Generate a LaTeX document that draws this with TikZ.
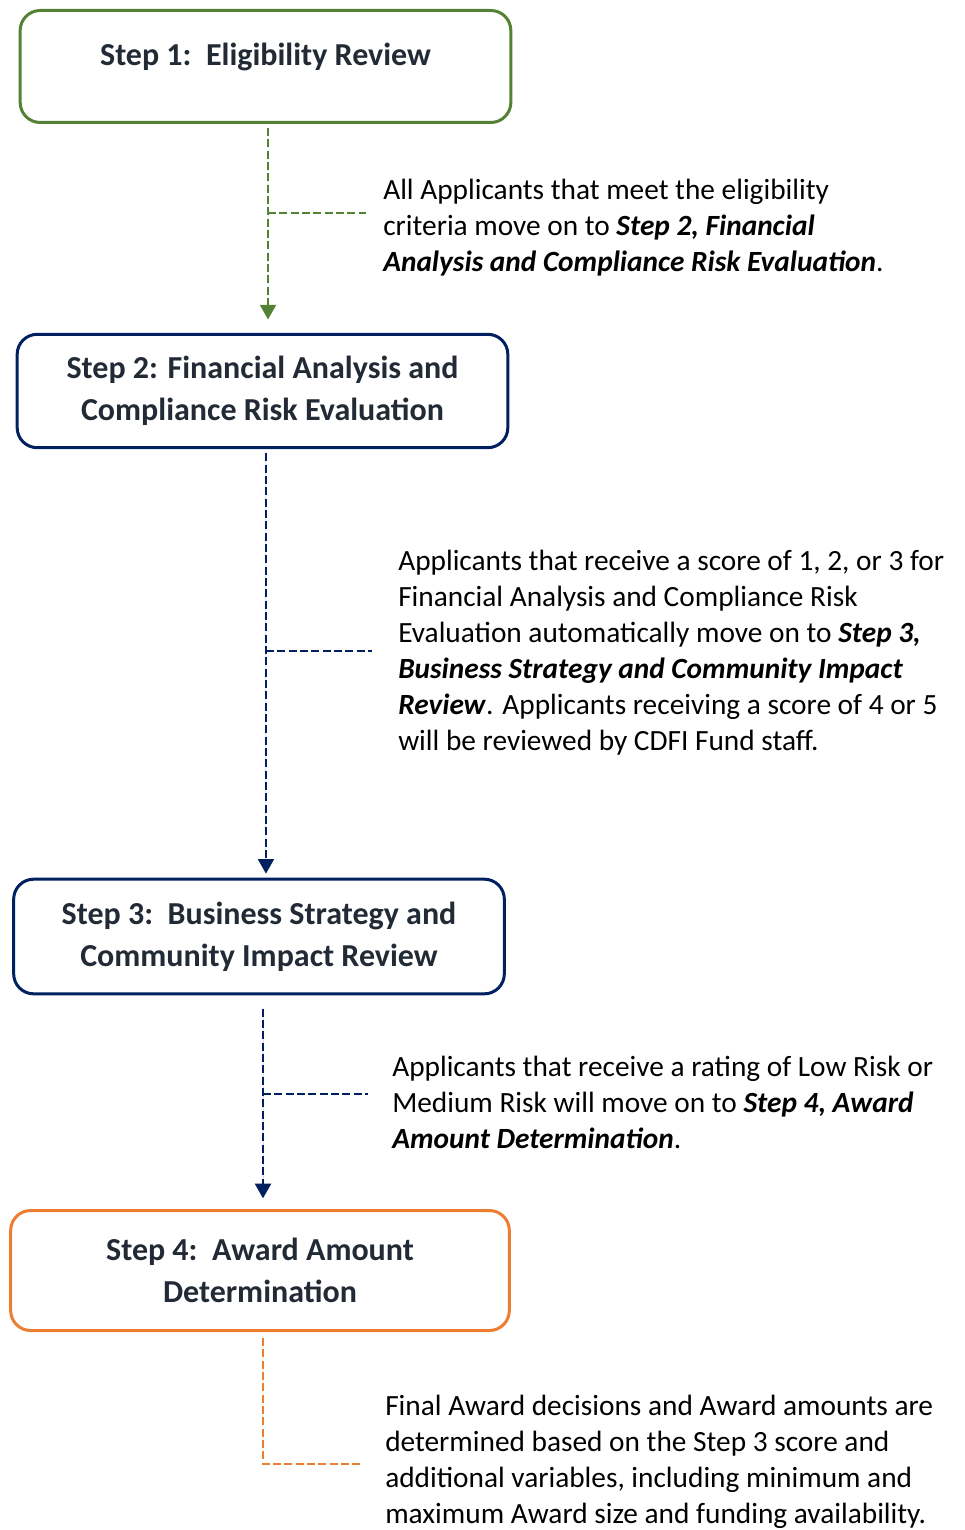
\documentclass[tikz,border=0pt]{standalone}
\usepackage{fontspec}
\setmainfont{Carlito}
\usepackage{tikz}
\usetikzlibrary{
	arrows.meta,
	positioning,
	calc
}
\usepackage{xcolor}
\definecolor{stepgreen}{HTML}{548235}
\definecolor{stepnavy}{HTML}{002060}
\definecolor{steporange}{HTML}{ED7D31}
\definecolor{stepink}{HTML}{222A35}
\newcommand{\stepfont}{\fontsize{24}{31.5}\selectfont\bfseries}
\newcommand{\notefont}{\fontsize{22}{27}\selectfont}
\newcommand{\stepref}[1]{\textbf{\textit{#1}}}

\tikzset{
	stepbox/.style={draw,rounded corners=15pt,line width=2.25pt,align=center,
		font=\stepfont,text=stepink,inner sep=0pt},
	note/.style={anchor=north west,align=left,font=\notefont,inner sep=0pt},
	flow/.style={line width=1.6pt,dash pattern=on 6pt off 2.5pt},
	tip/.style={-{Triangle[width=12pt,length=11pt]}}
}

\begin{document}
\begin{tikzpicture}[x=0.75pt,y=-0.75pt]
		
		\useasboundingbox (0,0) rectangle (964,1530);
		
		% Steps
		\node[stepbox,draw=stepgreen,minimum width=368pt,minimum height=84pt,
			text height=17pt,text depth=19pt] (s1) at (265.5,66.5)
		{Step 1:\ \ Eligibility Review};
		\node[stepbox,draw=stepnavy,minimum width=368pt,minimum height=85pt] (s2) at (262.5,391)
		{Step 2: Financial Analysis and\\Compliance Risk Evaluation};
		\node[stepbox,draw=stepnavy,minimum width=368pt,minimum height=86pt] (s3) at (259,936.5)
		{Step 3:\ \ Business Strategy and\\Community Impact Review};
		\node[stepbox,draw=steporange,minimum width=374pt,minimum height=90pt] (s4) at (260,1270.5)
		{Step 4:\ \ Award Amount\\Determination};
		
		% Notes
		\node[note] (t1) at (383,179)
		{All Applicants that meet the eligibility\\
			criteria move on to \stepref{Step 2, Financial}\\
			\stepref{Analysis and Compliance Risk Evaluation}.};
		\node[note] (t2) at (398,550)
		{Applicants that receive a score of 1, 2, or 3 for\\
			Financial Analysis and Compliance Risk\\
			Evaluation automatically move on to \stepref{Step 3,}\\
			\stepref{Business Strategy and Community Impact}\\
			\stepref{Review}. Applicants receiving a score of 4 or 5\\
			will be reviewed by CDFI Fund staff.};
		\node[note] (t3) at (392,1056)
		{Applicants that receive a rating of Low Risk or\\
			Medium Risk will move on to \stepref{Step 4, Award}\\
			\stepref{Amount Determination}.};
		\node[note] (t4) at (385,1395)
		{Final Award decisions and Award amounts are\\
			determined based on the Step 3 score and\\
			additional variables, including minimum and\\
			maximum Award size and funding availability.};
		
		% Flow lines
		\draw[flow,tip,draw=stepgreen,fill=stepgreen,shorten <=3pt,shorten >=10pt]
		([xshift=1.9pt]s1.south) -- ([xshift=1.9pt]s1.south |- s2.north);
		\coordinate (j1) at (268,213);
		\coordinate (e1) at (366,213);
		\draw[flow,draw=stepgreen] (j1) -- (e1);
		
		\draw[flow,tip,draw=stepnavy,fill=stepnavy,shorten <=3pt,shorten >=3pt]
		([xshift=2.6pt]s2.south) -- ([xshift=2.6pt]s2.south |- s3.north);
		\coordinate (j2) at (266,651);
		\coordinate (e2) at (372,651);
		\draw[flow,draw=stepnavy] (j2) -- (e2);
		
		\draw[flow,tip,draw=stepnavy,fill=stepnavy,shorten <=10pt,shorten >=8pt]
		([xshift=3pt]s3.south) -- ([xshift=3pt]s3.south |- s4.north);
		\coordinate (j3) at (263,1094);
		\coordinate (e3) at (368,1094);
		\draw[flow,draw=stepnavy] (j3) -- (e3);
		
		\coordinate (e4) at (362,1464);
		\draw[flow,draw=steporange,shorten <=4.5pt]
		([xshift=2.25pt]s4.south) |- (e4);
		
	\end{tikzpicture}
\end{document}
